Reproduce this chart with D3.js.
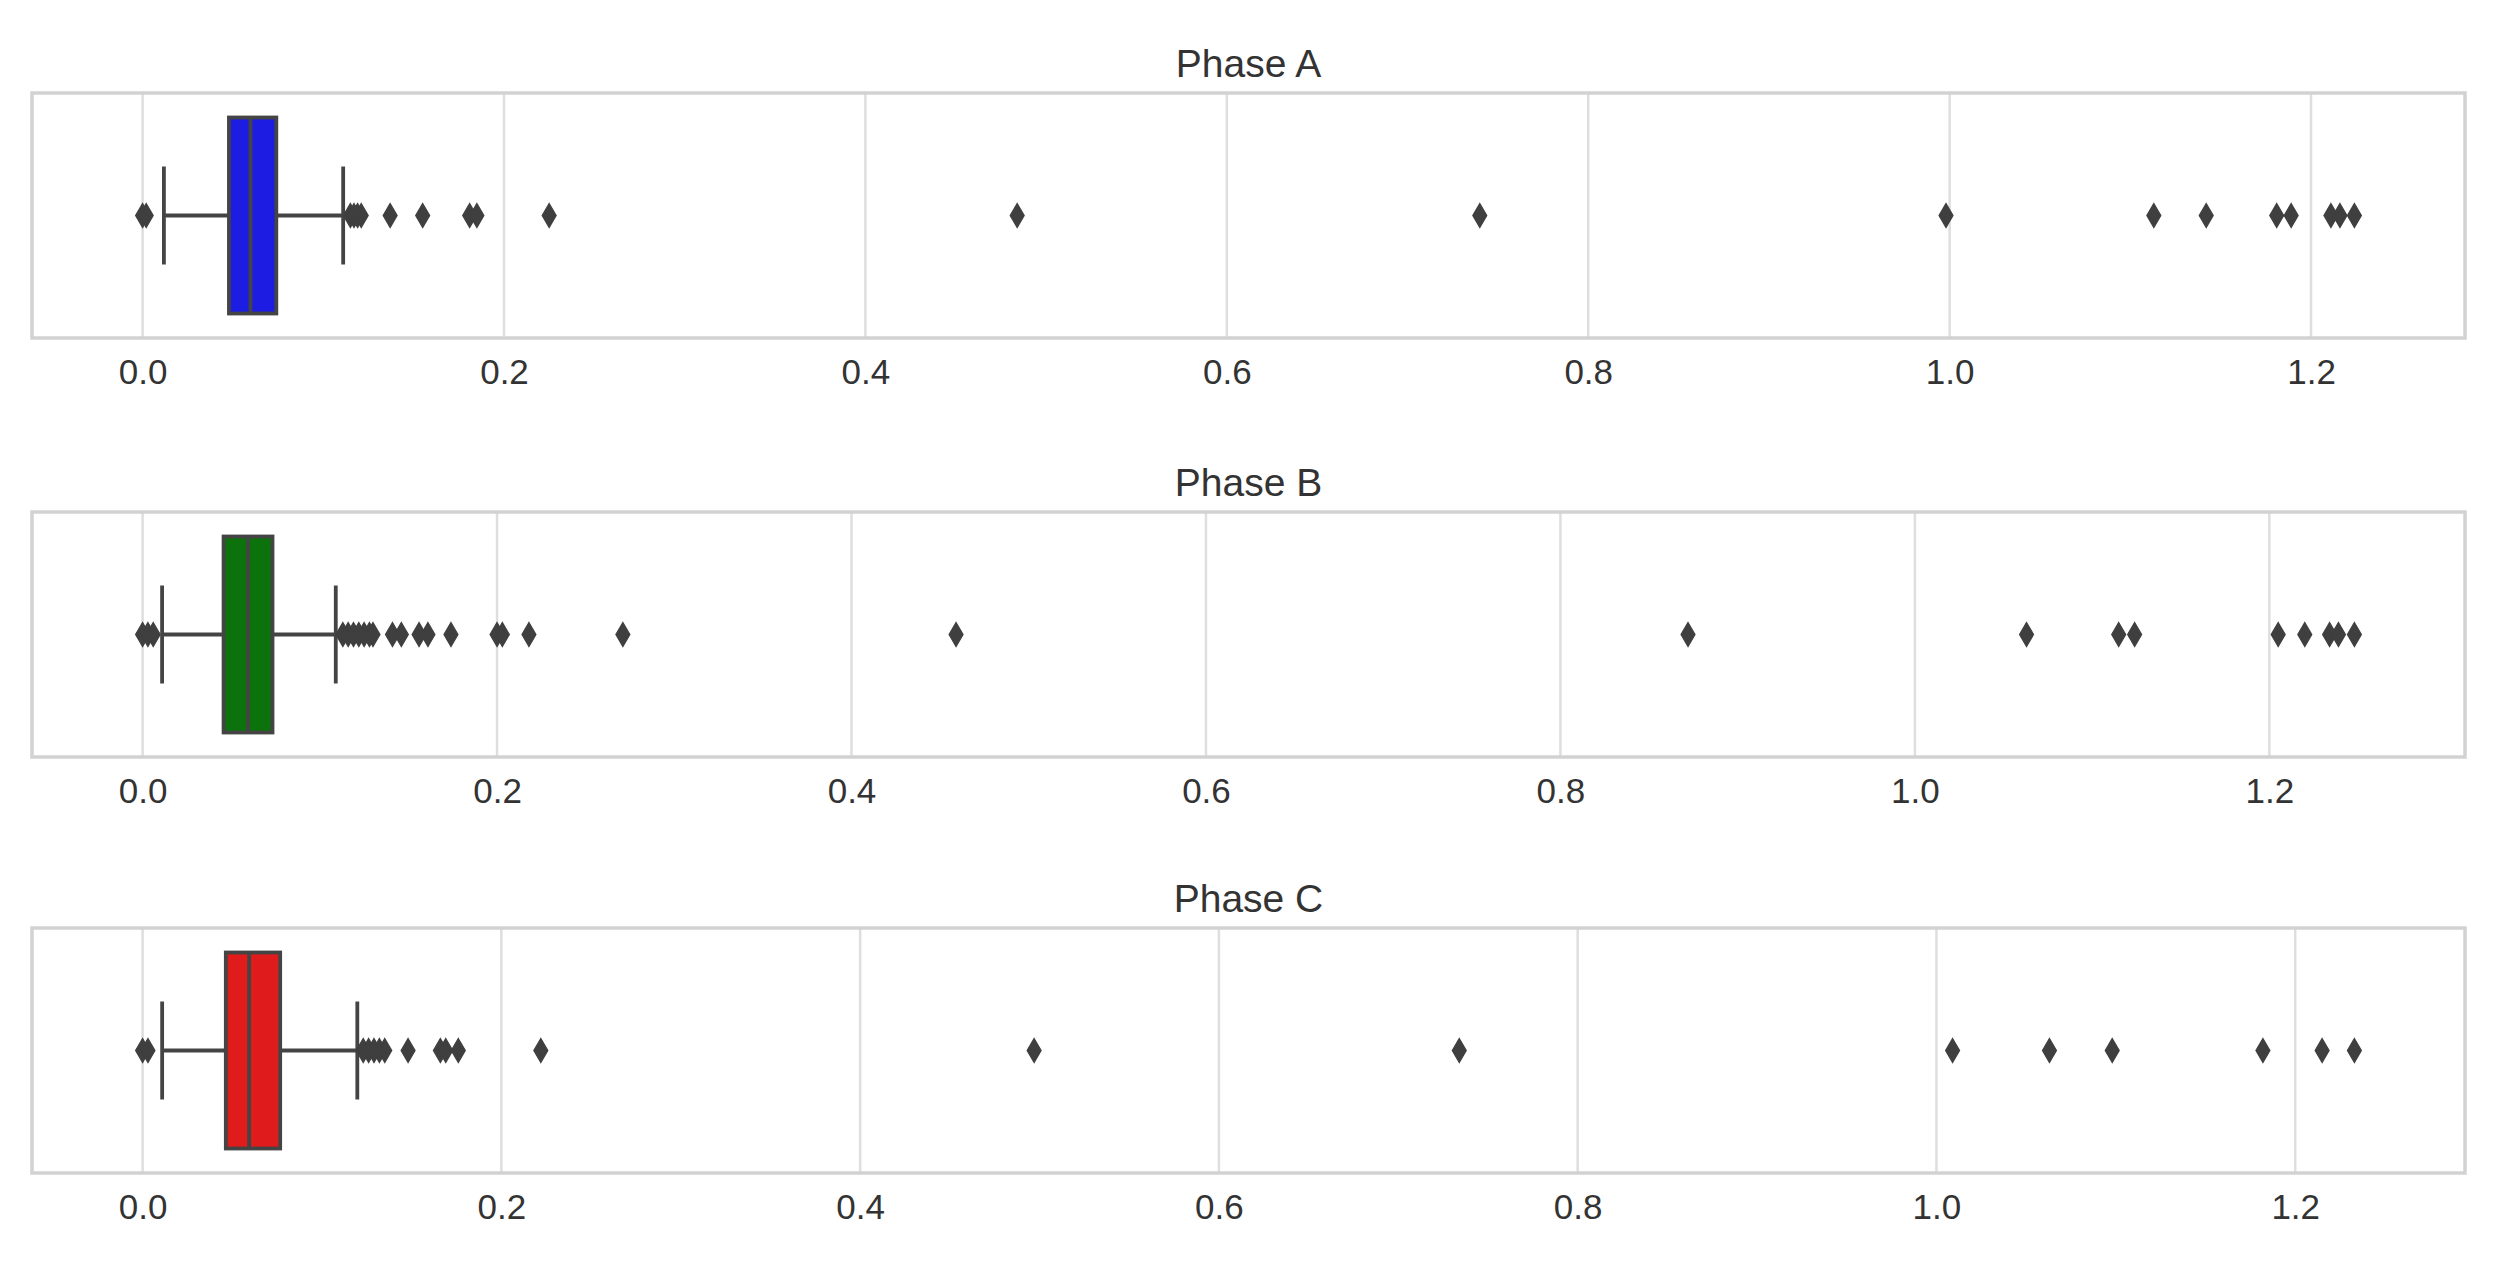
<!DOCTYPE html>
<html>
<head>
<meta charset="utf-8">
<script src="https://cdn.jsdelivr.net/npm/d3@7"></script>
<style>
  body { margin: 0; background: #fff; }
  text { font-family: "Liberation Sans", Arial, sans-serif; fill: #333; }
</style>
</head>
<body>
<div id="chart"></div>
<script>
// phase names and box colours
var phases = ["Phase A", "Phase B", "Phase C"];
var boxColors = ["#1c1ce3", "#0c730c", "#e01b1b"];

// box stats: [lower whisker, q1, median, q3, upper whisker]
var statsA = [0.0118, 0.0478, 0.0597, 0.0740, 0.1110];
var statsB = [0.0110, 0.0457, 0.0595, 0.0733, 0.1090];
var statsC = [0.0109, 0.0464, 0.0594, 0.0767, 0.1197];

var outliersA = [0.0, 0.002, 0.115, 0.117, 0.119, 0.121, 0.137, 0.155, 0.181, 0.185, 0.225,
    0.484, 0.740, 0.998, 1.113, 1.142, 1.181, 1.189, 1.211, 1.216, 1.224];
var outliersB = [0.0, 0.003, 0.006, 0.113, 0.116, 0.119, 0.122, 0.125, 0.128, 0.130, 0.141, 0.146,
    0.156, 0.161, 0.174, 0.200, 0.203, 0.218, 0.271, 0.459, 0.872, 1.063, 1.115, 1.124,
    1.205, 1.220, 1.234, 1.239, 1.248];
var outliersC = [0.0, 0.003, 0.123, 0.126, 0.129, 0.132, 0.135, 0.148, 0.166, 0.169, 0.176, 0.222,
    0.497, 0.734, 1.009, 1.063, 1.098, 1.182, 1.215, 1.233];

var tickValues = [0.0, 0.2, 0.4, 0.6, 0.8, 1.0, 1.2];

var allStats = [statsA, statsB, statsC];
var allOutliers = [outliersA, outliersB, outliersC];

var W = 2496, H = 1269;
var frame = {left: 32, right: 2465, height: 245};
var panelTops = [93, 512, 928];
var lineColor = "#444";
var lw = 3.8;

var svg = d3.select("#chart").append("svg")
    .attr("width", W)
    .attr("height", H);

for (var i = 0; i < phases.length; i++) {
    drawPanel(i);
}

function drawPanel(i) {
    var top = panelTops[i];
    var st = allStats[i];
    var outs = allOutliers[i];
    var vals = outs.concat(st);
    var lo = d3.min(vals), hi = d3.max(vals);
    var pad = (hi - lo) * 0.05;

    var x = d3.scaleLinear()
        .domain([lo - pad, hi + pad])
        .range([frame.left, frame.right]);
    // single category, band from -0.5 to 0.5
    var y = d3.scaleLinear()
        .domain([-0.5, 0.5])
        .range([top, top + frame.height]);

    var g = svg.append("g").attr("id", "panel" + i);

    // grid
    g.append("g").selectAll("line")
        .data(tickValues)
        .enter().append("line")
        .attr("x1", function(d) { return x(d); })
        .attr("x2", function(d) { return x(d); })
        .attr("y1", y(-0.5))
        .attr("y2", y(0.5))
        .attr("stroke", "#dedede")
        .attr("stroke-width", 2.5);

    // x axis labels, no tick marks
    var axis = g.append("g")
        .attr("transform", "translate(0," + y(0.5) + ")")
        .call(d3.axisBottom(x).tickValues(tickValues).tickFormat(d3.format(".1f")).tickSize(0).tickPadding(21));
    axis.select(".domain").remove();
    axis.selectAll("text")
        .style("font-size", "35px")
        .attr("fill", "#3a3a3a")
        .attr("font-family", "Liberation Sans, Arial, sans-serif");

    // whiskers
    g.append("line")
        .attr("x1", x(st[0])).attr("x2", x(st[1]))
        .attr("y1", y(0)).attr("y2", y(0))
        .attr("stroke", lineColor).attr("stroke-width", lw);
    g.append("line")
        .attr("x1", x(st[3])).attr("x2", x(st[4]))
        .attr("y1", y(0)).attr("y2", y(0))
        .attr("stroke", lineColor).attr("stroke-width", lw);
    g.selectAll("line.cap")
        .data([st[0], st[4]])
        .enter().append("line")
        .attr("class", "cap")
        .attr("x1", function(d) { return x(d); })
        .attr("x2", function(d) { return x(d); })
        .attr("y1", y(-0.2)).attr("y2", y(0.2))
        .attr("stroke", lineColor).attr("stroke-width", lw);

    // box
    g.append("rect")
        .attr("x", x(st[1]))
        .attr("width", x(st[3]) - x(st[1]))
        .attr("y", y(-0.4))
        .attr("height", y(0.4) - y(-0.4))
        .attr("fill", boxColors[i])
        .attr("stroke", lineColor)
        .attr("stroke-width", lw);
    g.append("line")
        .attr("x1", x(st[2])).attr("x2", x(st[2]))
        .attr("y1", y(-0.4)).attr("y2", y(0.4))
        .attr("stroke", lineColor).attr("stroke-width", lw);

    // outliers (thin diamonds)
    g.append("g").selectAll("path")
        .data(outs)
        .enter().append("path")
        .attr("d", "M0,-12L7,0L0,12L-7,0Z")
        .attr("transform", function(d) { return "translate(" + x(d) + "," + y(0) + ")"; })
        .attr("fill", "#3f3f3f")
        .attr("stroke", "#3f3f3f")
        .attr("stroke-width", 1.2);

    // frame
    g.append("rect")
        .attr("x", frame.left)
        .attr("y", top)
        .attr("width", frame.right - frame.left)
        .attr("height", frame.height)
        .attr("fill", "none")
        .attr("stroke", "#d2d2d2")
        .attr("stroke-width", 3.5);

    // title
    g.append("text")
        .attr("x", (frame.left + frame.right) / 2)
        .attr("y", top - 16)
        .attr("text-anchor", "middle")
        .style("font-size", "39px")
        .text(phases[i]);
}
</script>
</body>
</html>
